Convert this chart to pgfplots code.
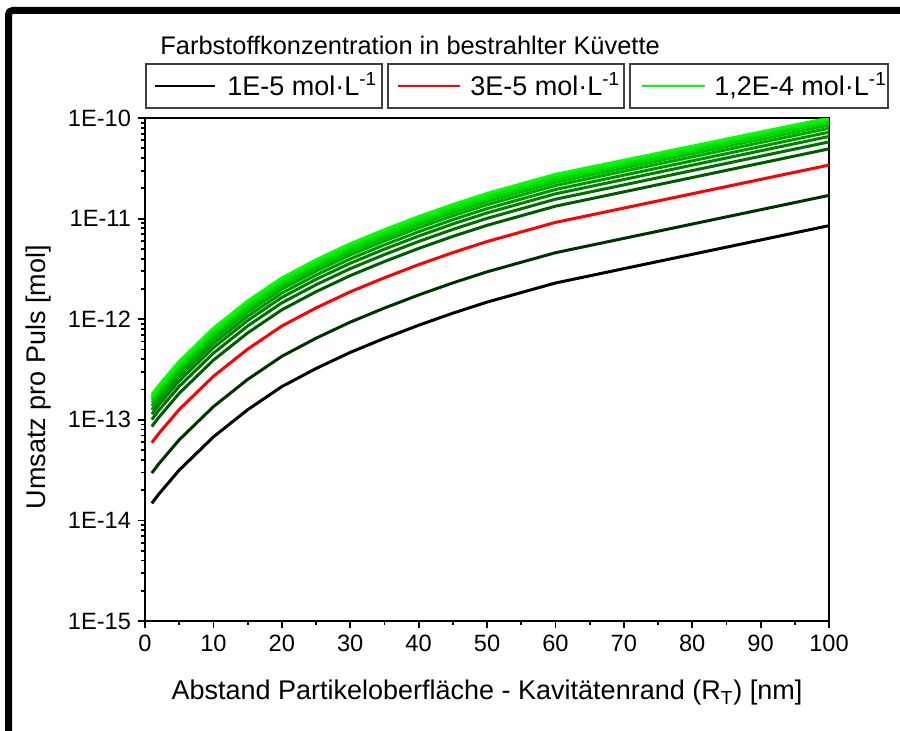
\documentclass[border=0pt]{standalone}
\usepackage{fontspec}
\setmainfont{Liberation Sans}
\setsansfont{Liberation Sans}
\usepackage{pgfplots}
\pgfplotsset{compat=1.18}
\definecolor{c2}{RGB}{0,50,0}
\definecolor{g1}{RGB}{0,90,0}
\definecolor{g2}{RGB}{0,110,0}
\definecolor{g3}{RGB}{0,130,0}
\definecolor{g4}{RGB}{0,150,0}
\definecolor{g5}{RGB}{0,170,0}
\definecolor{g6}{RGB}{0,190,0}
\definecolor{g7}{RGB}{0,210,0}
\definecolor{g8}{RGB}{0,232,0}
\definecolor{g9}{RGB}{0,255,0}
\begin{document}
\begin{tikzpicture}[x=1pt,y=1pt]
\useasboundingbox (0,0) rectangle (450,365);
\draw[line width=3.5pt, rounded corners=2pt] (4.25,-20) -- (4.25,359.75) -- (470,359.75);
\begin{axis}[
  at={(72.5pt,54.5pt)}, anchor=south west,
  scale only axis, width=342pt, height=251.5pt,
  xmin=0, xmax=100, ymode=log, ymin=1e-15, ymax=1e-10,
  axis line style={line width=1pt},
  tick align=outside, tick pos=left,
  major tick length=3.5pt, minor tick length=2pt,
  every tick/.style={black, line width=0.9pt},
  xtick={0,10,20,30,40,50,60,70,80,90,100},
  xticklabels={0,10,20,30,40,50,60,70,80,90,100},
  minor x tick num=1,
  ytick={1e-15,1e-14,1e-13,1e-12,1e-11,1e-10},
  yticklabels={1E-15,1E-14,1E-13,1E-12,1E-11,1E-10},
  minor ytick={2e-15,3e-15,4e-15,5e-15,6e-15,7e-15,8e-15,9e-15,
               2e-14,3e-14,4e-14,5e-14,6e-14,7e-14,8e-14,9e-14,
               2e-13,3e-13,4e-13,5e-13,6e-13,7e-13,8e-13,9e-13,
               2e-12,3e-12,4e-12,5e-12,6e-12,7e-12,8e-12,9e-12,
               2e-11,3e-11,4e-11,5e-11,6e-11,7e-11,8e-11,9e-11},
  /pgf/number format/assume math mode=true,
  ticklabel style={font=\fontsize{11.8}{14}\selectfont},
  xlabel={Abstand Partikeloberfläche - Kavitätenrand (R\textsubscript{T}) [nm]},
  ylabel={Umsatz pro Puls [mol]},
  label style={font=\fontsize{13.5}{16}\selectfont},
  xlabel style={at={(axis description cs:0.5,-0.157)}, anchor=base},
  ylabel style={at={(axis description cs:-0.1564,0.485)}, anchor=center},
  every axis plot/.append style={line width=1.5pt, mark=none},
]
\addplot[black] coordinates {(1,1.479e-14) (2,1.820e-14) (5,3.162e-14) (10,6.761e-14) (15,1.259e-13) (20,2.138e-13) (25,3.236e-13) (30,4.677e-13) (35,6.457e-13) (40,8.710e-13) (45,1.148e-12) (50,1.479e-12) (60,2.291e-12) (100,8.511e-12)};
\addplot[c2] coordinates {(1,2.958e-14) (2,3.640e-14) (5,6.324e-14) (10,1.352e-13) (15,2.518e-13) (20,4.276e-13) (25,6.472e-13) (30,9.354e-13) (35,1.291e-12) (40,1.742e-12) (45,2.296e-12) (50,2.958e-12) (60,4.582e-12) (100,1.702e-11)};
\addplot[red] coordinates {(1,5.916e-14) (2,7.280e-14) (5,1.265e-13) (10,2.704e-13) (15,5.036e-13) (20,8.552e-13) (25,1.294e-12) (30,1.871e-12) (35,2.583e-12) (40,3.484e-12) (45,4.592e-12) (50,5.916e-12) (60,9.164e-12) (100,3.404e-11)};
\addplot[g1] coordinates {(1,8.578e-14) (2,1.056e-13) (5,1.834e-13) (10,3.921e-13) (15,7.302e-13) (20,1.240e-12) (25,1.877e-12) (30,2.713e-12) (35,3.745e-12) (40,5.052e-12) (45,6.658e-12) (50,8.578e-12) (60,1.329e-11) (100,4.936e-11)};
\addplot[g2] coordinates {(1,1.006e-13) (2,1.238e-13) (5,2.150e-13) (10,4.597e-13) (15,8.561e-13) (20,1.454e-12) (25,2.200e-12) (30,3.180e-12) (35,4.391e-12) (40,5.923e-12) (45,7.806e-12) (50,1.006e-11) (60,1.558e-11) (100,5.787e-11)};
\addplot[g3] coordinates {(1,1.139e-13) (2,1.401e-13) (5,2.435e-13) (10,5.206e-13) (15,9.694e-13) (20,1.646e-12) (25,2.492e-12) (30,3.601e-12) (35,4.972e-12) (40,6.707e-12) (45,8.840e-12) (50,1.139e-11) (60,1.764e-11) (100,6.553e-11)};
\addplot[g4] coordinates {(1,1.257e-13) (2,1.547e-13) (5,2.688e-13) (10,5.747e-13) (15,1.070e-12) (20,1.817e-12) (25,2.751e-12) (30,3.975e-12) (35,5.488e-12) (40,7.404e-12) (45,9.758e-12) (50,1.257e-11) (60,1.947e-11) (100,7.234e-11)};
\addplot[g5] coordinates {(1,1.375e-13) (2,1.693e-13) (5,2.941e-13) (10,6.288e-13) (15,1.171e-12) (20,1.988e-12) (25,3.009e-12) (30,4.350e-12) (35,6.005e-12) (40,8.100e-12) (45,1.068e-11) (50,1.375e-11) (60,2.131e-11) (100,7.915e-11)};
\addplot[g6] coordinates {(1,1.479e-13) (2,1.820e-13) (5,3.162e-13) (10,6.761e-13) (15,1.259e-12) (20,2.138e-12) (25,3.236e-12) (30,4.677e-12) (35,6.457e-12) (40,8.710e-12) (45,1.148e-11) (50,1.479e-11) (60,2.291e-11) (100,8.511e-11)};
\addplot[g7] coordinates {(1,1.583e-13) (2,1.947e-13) (5,3.383e-13) (10,7.234e-13) (15,1.347e-12) (20,2.288e-12) (25,3.463e-12) (30,5.004e-12) (35,6.909e-12) (40,9.320e-12) (45,1.228e-11) (50,1.583e-11) (60,2.451e-11) (100,9.107e-11)};
\addplot[g8] coordinates {(1,1.671e-13) (2,2.057e-13) (5,3.573e-13) (10,7.640e-13) (15,1.423e-12) (20,2.416e-12) (25,3.657e-12) (30,5.285e-12) (35,7.296e-12) (40,9.842e-12) (45,1.297e-11) (50,1.671e-11) (60,2.589e-11) (100,9.617e-11)};
\addplot[g9] coordinates {(1,1.775e-13) (2,2.184e-13) (5,3.794e-13) (10,8.113e-13) (15,1.511e-12) (20,2.566e-12) (25,3.883e-12) (30,5.612e-12) (35,7.748e-12) (40,1.045e-11) (45,1.378e-11) (50,1.775e-11) (60,2.749e-11) (100,1.000e-10)};
\end{axis}
% legend
\node[anchor=base west, font=\fontsize{12.7}{15}\selectfont, inner sep=0pt] at (80,337.5) {Farbstoffkonzentration in bestrahlter Küvette};
\draw[line width=0.6pt, black!75] (73,333) rectangle (191,311);
\draw[line width=0.6pt, black!75] (194,333) rectangle (312,311);
\draw[line width=0.6pt, black!75] (315,333) rectangle (444,311);
\draw[line width=1pt, black] (77.5,322) -- (107.5,322);
\draw[line width=1pt, red] (199,322) -- (230,322);
\draw[line width=1pt, g9] (321,322) -- (352.5,322);
\node[anchor=base west, font=\fontsize{13.5}{16}\selectfont, inner sep=0pt] at (113.5,317) {1E-5 mol·L\textsuperscript{-1}};
\node[anchor=base west, font=\fontsize{13.5}{16}\selectfont, inner sep=0pt] at (235,317) {3E-5 mol·L\textsuperscript{-1}};
\node[anchor=base west, font=\fontsize{13.5}{16}\selectfont, inner sep=0pt] at (357,317) {1,2E-4 mol·L\textsuperscript{-1}};
\end{tikzpicture}
\end{document}
